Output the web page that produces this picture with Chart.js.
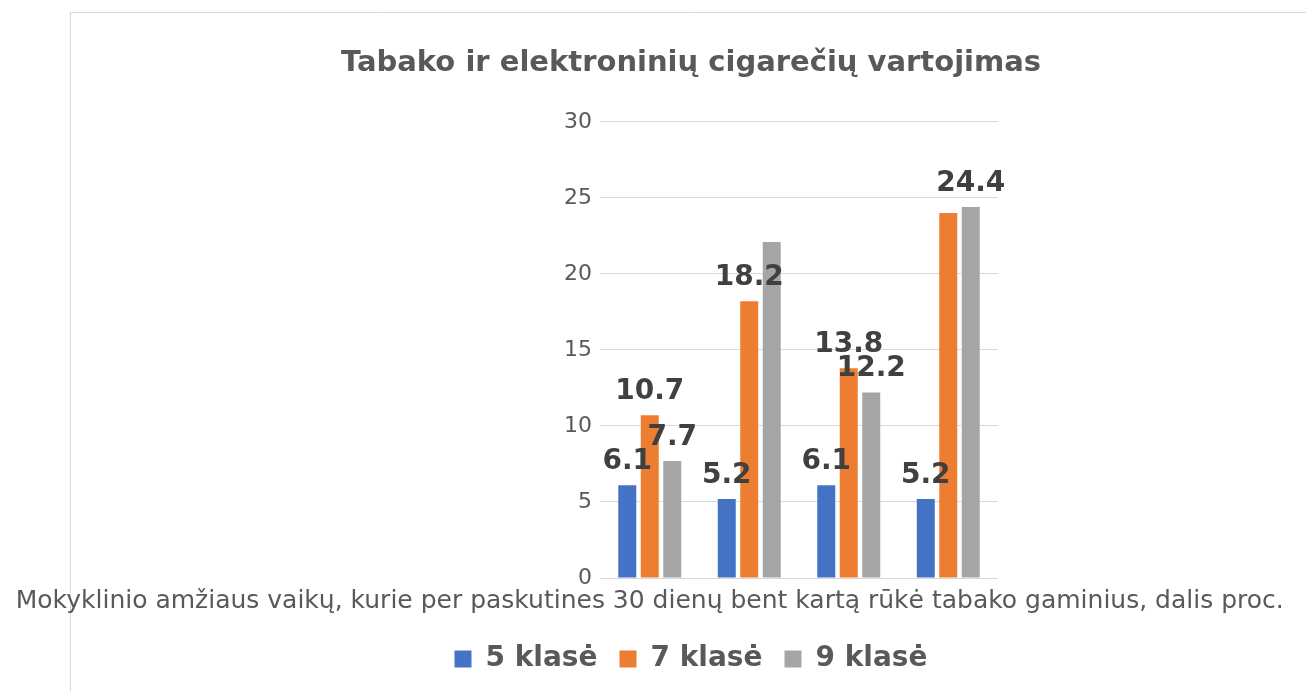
<!DOCTYPE html>
<html lang="lt">
<head>
<meta charset="UTF-8">
<title>Tabako ir elektroninių cigarečių vartojimas</title>
<script src="https://cdn.jsdelivr.net/npm/chart.js"></script>
<style>
    body { margin: 0; background: #fff; }
    .chart-con { width: 1306px; height: 691px; position: relative; }
</style>
</head>
<body>
<div class="chart-con">
    <canvas id="bars"></canvas>
</div>
<script>
    // duomenys
    const categories = [
        'Mokyklinio amžiaus vaikų, kurie per paskutines 30 dienų bent kartą rūkė tabako gaminius, dalis proc.',
        '', '', ''
    ];
    const seriesNames = ['5 klasė', '7 klasė', '9 klasė'];
    const klase5 = [6.1, 5.2, 6.1, 5.2];
    const klase7 = [10.7, 18.2, 13.8, 24.0];
    const klase9 = [7.7, 22.1, 12.2, 24.4];
    const yTicks = [0, 5, 10, 15, 20, 25, 30];
    // etiketės, kurių nerodo originale: [serija, kategorija]
    const hiddenLabels = [[2, 1], [1, 3]];

    const colors = ['#4472c4', '#ed7d31', '#a5a5a5'];

    // rėmelis aplink diagramą
    const framePlugin = {
        id: 'frame',
        beforeDraw(chart) {
            const c = chart.ctx;
            c.save();
            c.strokeStyle = '#d9d9d9';
            c.lineWidth = 1;
            c.beginPath();
            c.moveTo(70.5, chart.height);
            c.lineTo(70.5, 12.5);
            c.lineTo(chart.width, 12.5);
            c.stroke();
            c.restore();
        }
    };

    // reikšmių etiketės virš stulpelių
    const valueLabels = {
        id: 'valueLabels',
        afterDatasetsDraw(chart) {
            const c = chart.ctx;
            c.save();
            c.font = 'bold 28px "DejaVu Sans"';
            c.fillStyle = '#404040';
            c.textAlign = 'center';
            c.textBaseline = 'alphabetic';
            chart.data.datasets.forEach((ds, di) => {
                chart.getDatasetMeta(di).data.forEach((bar, i) => {
                    if (hiddenLabels.some(h => h[0] === di && h[1] === i)) return;
                    c.fillText(ds.data[i].toFixed(1), bar.x, bar.y - 16);
                });
            });
            c.restore();
        }
    };

    const bars = document.getElementById('bars');
    new Chart(bars, {
        type: 'bar',
        data: {
            labels: categories,
            datasets: [
                { label: seriesNames[0], data: klase5, backgroundColor: colors[0] },
                { label: seriesNames[1], data: klase7, backgroundColor: colors[1] },
                { label: seriesNames[2], data: klase9, backgroundColor: colors[2] }
            ]
        },
        options: {
            responsive: true,
            maintainAspectRatio: false,
            animation: false,
            categoryPercentage: 0.678,
            barPercentage: 0.8,
            layout: {
                padding: { left: 76, right: 0, top: 0, bottom: 8 }
            },
            plugins: {
                tooltip: { enabled: false },
                title: {
                    display: true,
                    text: 'Tabako ir elektroninių cigarečių vartojimas',
                    color: '#595959',
                    font: { size: 29, weight: 'bold', family: '"DejaVu Sans"' },
                    padding: { top: 46, bottom: 41 }
                },
                legend: {
                    position: 'bottom',
                    labels: {
                        color: '#595959',
                        font: { size: 28, weight: 'bold', family: '"DejaVu Sans"' },
                        boxWidth: 17,
                        boxHeight: 17,
                        padding: 22
                    }
                }
            },
            scales: {
                x: {
                    grid: { display: false },
                    border: { display: false },
                    ticks: {
                        color: '#595959',
                        font: { size: 25, family: '"DejaVu Sans"' },
                        autoSkip: false,
                        maxRotation: 0,
                        minRotation: 0,
                        padding: 0
                    },
                    afterFit(s) {
                        s.paddingLeft = 0;
                        s.paddingRight = 0;
                        s.height += 7;
                    }
                },
                y: {
                    min: 0,
                    max: 30,
                    afterBuildTicks(s) {
                        s.ticks = yTicks.map(v => ({ value: v }));
                    },
                    grid: { color: '#d9d9d9', drawTicks: false },
                    border: { display: false },
                    ticks: {
                        color: '#595959',
                        font: { size: 22, family: '"DejaVu Sans"' },
                        padding: 8
                    },
                    afterFit(s) { s.width = 524; }
                },
                yRight: {
                    position: 'right',
                    display: true,
                    grid: { display: false, drawTicks: false },
                    border: { display: false },
                    ticks: { display: false },
                    afterFit(s) { s.width = 308; }
                }
            }
        },
        plugins: [framePlugin, valueLabels]
    });
</script>
</body>
</html>
